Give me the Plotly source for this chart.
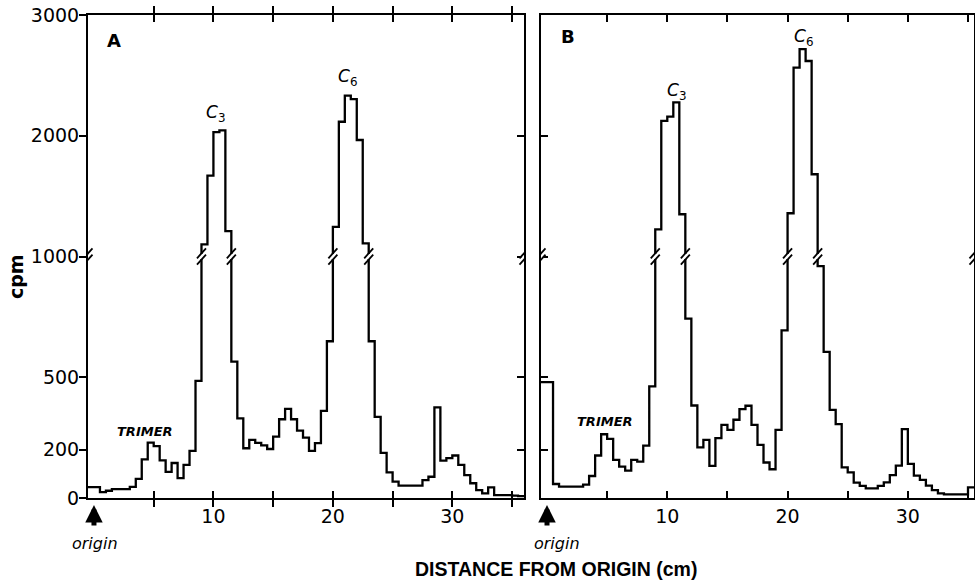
import numpy as np
import plotly.graph_objects as go

# ---------------- data (cpm per 0.5-cm gel slice) ----------------
slice_width_cm = 0.5
first_edge_cm = -0.5

cpm_a = [45, 45, 24, 30, 37, 37, 37, 46, 79, 160, 229, 215, 156, 108, 145, 82, 137, 195, 485,
         1100, 1670, 2030, 2045, 1210,
         565, 330, 206, 241, 228, 218, 203, 254, 326, 369, 326, 279, 250, 195, 227, 361, 649,
         1246, 2116, 2332, 2304, 1965, 1109,
         649, 336, 187, 106, 68, 51, 51, 51, 51, 74, 88, 375, 155, 165, 176, 137, 95, 61, 33, 19, 44,
         12, 12, 12, 10, 8]

cpm_b = [480, 480, 58, 47, 47, 47, 47, 55, 91, 176, 264, 245, 158, 130, 113, 158, 151, 217, 462,
         1225, 2124, 2158, 2277, 1350,
         743, 383, 210, 241, 133, 248, 303, 282, 324, 368, 382, 303, 220, 147, 119, 282, 694,
         1358, 2564, 2718, 2619, 1681,
         960, 605, 365, 306, 127, 106, 64, 50, 40, 40, 50, 65, 95, 134, 285, 141, 93, 75, 51, 33, 19,
         15, 15, 15, 15, 44]

y_tick_values = [0, 200, 500, 1000, 2000, 3000]
y_tick_labels = ["0", "200", "500", "1000", "2000", "3000"]
x_tick_values = [5, 10, 15, 20, 25, 30, 35]
x_tick_labels = ["", "10", "", "20", "", "30", ""]
break_level = 1000


def to_axis(v):
    """Broken scale: linear to 1000 cpm, half scale above."""
    v = np.asarray(v, dtype=float)
    return np.where(v <= break_level, v, break_level + (v - break_level) / 2.0)


def step_xy(vals):
    vals = list(vals)
    edges = first_edge_cm + slice_width_cm * np.arange(len(vals) + 1)
    y = to_axis(vals + [vals[-1]])
    return edges, y, vals


FONT = "DejaVu Sans"
fig = go.Figure()

xa, ya, va = step_xy(cpm_a)
xb, yb, vb = step_xy(cpm_b)
fig.add_trace(go.Scatter(x=xa, y=ya, mode="lines", line=dict(color="black", width=2.3, shape="hv"),
                         xaxis="x", yaxis="y", showlegend=False, hoverinfo="skip"))
fig.add_trace(go.Scatter(x=xb, y=yb, mode="lines", line=dict(color="black", width=2.3, shape="hv"),
                         xaxis="x2", yaxis="y2", showlegend=False, hoverinfo="skip"))
# dummy trace so the right-hand tick axis of panel A is drawn
fig.add_trace(go.Scatter(x=[None], y=[None], xaxis="x", yaxis="y3", showlegend=False, hoverinfo="skip"))

# ---------------- break marks ----------------
shapes = []


def add_break(xref, yref, xpos):
    yb_ = float(to_axis(break_level))
    shapes.append(dict(type="line", xref=xref, yref=yref, xsizemode="pixel", ysizemode="pixel",
                       xanchor=xpos, yanchor=yb_, x0=0, x1=0, y0=-2.5, y1=2.5,
                       line=dict(color="white", width=5)))
    for off in (-3.2, 3.2):
        shapes.append(dict(type="line", xref=xref, yref=yref, xsizemode="pixel", ysizemode="pixel",
                           xanchor=xpos, yanchor=yb_,
                           x0=-4.5, x1=4.5, y0=off - 5, y1=off + 5,
                           line=dict(color="black", width=1.8)))


for xs, vals, xr, yr, rng in ((xa, va, "x", "y", (-0.5, 36.0)), (xb, vb, "x2", "y2", (-0.5, 35.5))):
    for i in range(1, len(vals)):
        lo, hi = min(vals[i - 1], vals[i]), max(vals[i - 1], vals[i])
        if lo < break_level < hi:
            add_break(xr, yr, float(xs[i]))
    add_break(xr, yr, rng[0])
    add_break(xr, yr, rng[1])

# ---------------- axes ----------------
ydom = [82 / 580, 565 / 580]
tickfont = dict(family=FONT, size=19, color="black")
axis_common = dict(showline=True, linewidth=2, linecolor="black", showgrid=False, zeroline=False,
                   tickwidth=2, tickcolor="black", ticklen=7, automargin=False)
ytickvals = to_axis(y_tick_values).tolist()

fig.update_layout(
    width=975, height=580,
    margin=dict(l=0, r=0, t=0, b=0, pad=0),
    paper_bgcolor="white", plot_bgcolor="white",
    showlegend=False,
    xaxis=dict(domain=[88 / 975, 524 / 975], range=[-0.5, 36.0], anchor="y",
               ticks="inside", mirror="allticks", tickmode="array",
               tickvals=x_tick_values, ticktext=x_tick_labels, tickfont=tickfont, **axis_common),
    xaxis2=dict(domain=[541 / 975, 974 / 975], range=[-0.5, 35.5], anchor="y2",
                ticks="inside", mirror="allticks", tickmode="array",
                tickvals=x_tick_values, ticktext=x_tick_labels, tickfont=tickfont, **axis_common),
    yaxis=dict(domain=ydom, range=[0, 2000], anchor="x", ticks="outside", mirror=True,
               tickmode="array", tickvals=ytickvals, ticktext=y_tick_labels,
               tickfont=tickfont, **axis_common),
    yaxis3=dict(range=[0, 2000], overlaying="y", anchor="x", side="right", ticks="inside",
                tickmode="array", tickvals=ytickvals, showticklabels=False, automargin=False,
                showgrid=False, zeroline=False, showline=False, tickwidth=2, tickcolor="black", ticklen=7),
    yaxis2=dict(domain=ydom, range=[0, 2000], anchor="x2", ticks="inside", mirror=True,
                tickmode="array", tickvals=ytickvals, showticklabels=False,
                **axis_common),
    shapes=shapes,
)
try:
    fig.update_layout(yaxis_ticklabelstandoff=-4)
except Exception:
    pass

# ---------------- annotations ----------------
ann = []


def text(x, y, s, xref, yref, size=18, family=FONT, **kw):
    ann.append(dict(x=x, y=y, xref=xref, yref=yref, text=s, showarrow=False,
                    xanchor="center", yanchor="middle",
                    font=dict(family=family, size=size, color="black"), **kw))


text(114 / 975, 1 - 41 / 580, "<b>A</b>", "paper", "paper", size=18)
text(568 / 975, 1 - 37 / 580, "<b>B</b>", "paper", "paper", size=18)

text(10.2, 1594, "<i>C</i><sub>3</sub>", "x", "y", size=17)
text(21.2, 1743, "<i>C</i><sub>6</sub>", "x", "y", size=17)
text(10.78, 1685, "<i>C</i><sub>3</sub>", "x2", "y2", size=17)
text(21.3, 1907, "<i>C</i><sub>6</sub>", "x2", "y2", size=17)

text(4.28, 275, "<b><i>TRIMER</i></b>", "x", "y", size=13)
text(4.84, 316, "<b><i>TRIMER</i></b>", "x2", "y2", size=13)

# origin arrows
for xr in ("x", "x2"):
    ann.append(dict(x=0, y=1 - 505 / 580, xref=xr, yref="paper", text="", showarrow=True,
                    arrowhead=2, arrowsize=0.7, arrowwidth=5, arrowcolor="black", ax=0, ay=22))
text(94.5 / 975, 1 - 543 / 580, "<i>origin</i>", "paper", "paper", size=16)
text(557 / 975, 1 - 543 / 580, "<i>origin</i>", "paper", "paper", size=16)

text(16 / 975, 1 - 277 / 580, "<b>cpm</b>", "paper", "paper", size=19, textangle=-90)
text(556 / 975, 1 - 569 / 580, "<b>DISTANCE FROM ORIGIN (cm)</b>", "paper", "paper",
     size=19.5, family="Liberation Sans")

fig.update_layout(annotations=ann)
fig.write_html("out.html")
